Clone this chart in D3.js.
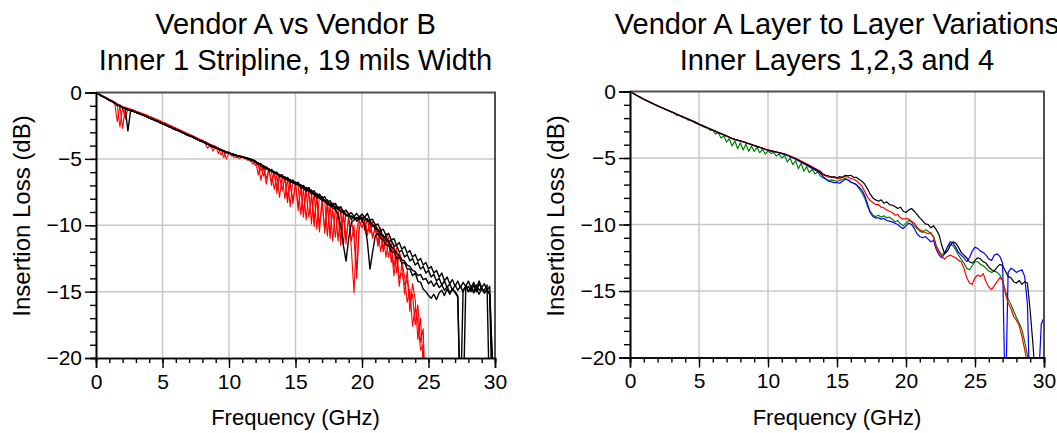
<!DOCTYPE html>
<html>
<head>
<meta charset="utf-8">
<script src="https://cdn.jsdelivr.net/npm/d3@7"></script>
<style>
  body { margin: 0; background: #fff; }
  svg { display: block; }
  text { font-family: "Liberation Sans", Arial, sans-serif; fill: #000; }
</style>
</head>
<body>
<svg id="chart" width="1057" height="433"></svg>
<script>
// Axis ticks shared by both panels
const freqTicks = [0, 5, 10, 15, 20, 25, 30];
const lossTicks = [0, -5, -10, -15, -20];
const freqStep = 0.2; // GHz between samples in every trace

// ---- Vendor A vs Vendor B, Inner 1 stripline (dB, every 0.2 GHz) ----
const vendorA_1 = [
  0, -0.12, -0.25, -0.33, -0.45, -0.58, -0.66, -0.78, -0.95, -1.0,
  -1.15, -1.2, -1.28, -1.35, -1.4, -1.5, -1.56, -1.66, -1.72, -1.82,
  -1.92, -1.98, -2.1, -2.14, -2.27, -2.35, -2.42, -2.55, -2.6, -2.73,
  -2.8, -2.86, -2.98, -3.05, -3.18, -3.25, -3.3, -3.45, -3.5, -3.64,
  -3.7, -3.78, -3.9, -3.96, -4.1, -4.15, -4.22, -4.35, -4.4, -4.52,
  -4.55, -4.62, -4.7, -4.75, -4.82, -4.85, -4.9, -4.95, -5.0, -5.1,
  -5.2, -5.4, -5.35, -5.65, -5.6, -5.85, -5.8, -6.05, -6.0, -6.3,
  -6.2, -6.5, -6.4, -6.7, -6.6, -6.85, -6.75, -7.1, -7.0, -7.3,
  -7.15, -7.5, -7.4, -7.8, -7.65, -7.95, -7.85, -8.25, -8.15, -8.5,
  -8.35, -8.75, -8.6, -9.0, -8.85, -9.2, -9.05, -9.35, -9.1, -9.4,
  -9.15, -9.4, -9.1, -9.6, -9.55, -10.0, -9.9, -10.4, -10.3, -10.75,
  -10.6, -11.1, -11.0, -11.5, -11.3, -11.8, -11.6, -12.1, -11.9, -12.4,
  -12.2, -12.7, -12.5, -13.0, -12.8, -13.3, -13.1, -13.6, -13.4, -13.9,
  -13.6, -14.2, -13.9, -14.4, -14.1, -14.6, -14.2, -14.7, -14.3, -14.6,
  -14.2, -14.7, -14.3, -14.8, -14.2, -14.7, -14.4, -14.9, -14.6, -20.5,
  -24
];
const vendorA_2 = [
  0, -0.13, -0.24, -0.35, -0.46, -0.6, -0.68, -0.8, -0.93, -1.02,
  -1.15, -1.22, -2.9, -1.35, -1.42, -1.5, -1.58, -1.65, -1.74, -1.8,
  -1.93, -2.0, -2.08, -2.16, -2.25, -2.36, -2.44, -2.52, -2.62, -2.7,
  -2.82, -2.88, -2.98, -3.07, -3.15, -3.27, -3.34, -3.42, -3.53, -3.6,
  -3.72, -3.8, -3.88, -3.98, -4.06, -4.17, -4.25, -4.32, -4.42, -4.5,
  -4.58, -4.65, -4.7, -4.78, -4.8, -4.88, -4.92, -4.98, -5.05, -5.15,
  -5.25, -5.4, -5.4, -5.7, -5.65, -5.9, -5.85, -6.1, -6.1, -6.35,
  -6.3, -6.55, -6.5, -6.8, -6.75, -6.95, -6.9, -7.2, -7.2, -7.45,
  -7.35, -7.65, -7.6, -7.95, -7.9, -8.15, -8.2, -8.45, -8.5, -8.7,
  -8.8, -9.2, -10.0, -11.5, -12.7, -11.0, -9.8, -9.6, -9.5, -9.4,
  -9.6, -10.0, -11.2, -13.3, -12.0, -10.8, -10.6, -11.0, -11.1, -11.5,
  -11.5, -12.0, -12.0, -12.5, -12.4, -12.9, -12.8, -13.3, -13.3, -13.8,
  -13.6, -14.2, -14.3, -14.8, -15.0, -15.3, -15.5, -15.2, -15.6, -15.1,
  -14.9, -15.3, -14.8, -15.2, -14.8, -15.1, -15.4, -24, -14.9, -14.6,
  -15.0, -14.6, -15.0, -14.5, -14.9, -14.7, -15.1, -14.8, -15.2, -24,
  -24
];
const vendorA_3 = [
  0, -0.12, -0.24, -0.34, -0.46, -0.57, -0.67, -0.79, -0.92, -1.01,
  -1.14, -1.21, -1.29, -1.36, -1.41, -1.49, -1.57, -1.65, -1.73, -1.81,
  -1.91, -1.99, -2.09, -2.15, -2.26, -2.34, -2.43, -2.54, -2.61, -2.72,
  -2.79, -2.87, -2.97, -3.06, -3.17, -3.24, -3.31, -3.44, -3.51, -3.63,
  -3.69, -3.79, -3.89, -3.97, -4.09, -4.14, -4.23, -4.34, -4.41, -4.51,
  -4.56, -4.63, -4.69, -4.76, -4.81, -4.86, -4.91, -4.96, -5.02, -5.12,
  -5.25, -5.3, -5.5, -5.5, -5.75, -5.75, -5.95, -5.95, -6.15, -6.2,
  -6.4, -6.35, -6.6, -6.55, -6.8, -6.75, -7.0, -6.95, -7.2, -7.15,
  -7.45, -7.35, -7.7, -7.6, -7.95, -7.85, -8.2, -8.1, -8.5, -8.4,
  -8.8, -8.6, -9.0, -8.9, -9.3, -9.2, -9.55, -9.3, -9.7, -9.4,
  -9.6, -9.35, -9.7, -9.6, -10.1, -10.0, -10.5, -10.4, -10.9, -10.8,
  -11.3, -11.1, -11.6, -11.5, -12.0, -11.9, -12.4, -12.2, -12.7, -12.5,
  -13.0, -12.8, -13.3, -13.1, -13.6, -13.4, -13.9, -13.7, -14.2, -14.0,
  -14.5, -14.2, -14.7, -14.4, -14.9, -14.5, -14.9, -14.6, -15.0, -14.6,
  -15.0, -14.7, -15.1, -14.8, -15.2, -14.8, -15.1, -14.9, -15.2, -20,
  -24
];
const vendorA_4 = [
  0, -0.11, -0.25, -0.35, -0.45, -0.58, -0.67, -0.79, -0.93, -1.02,
  -1.14, -1.2, -1.29, -1.35, -1.41, -1.5, -1.57, -1.65, -1.72, -1.81,
  -1.92, -1.99, -2.09, -2.15, -2.26, -2.35, -2.43, -2.54, -2.61, -2.72,
  -2.81, -2.87, -2.98, -3.06, -3.17, -3.25, -3.32, -3.44, -3.52, -3.63,
  -3.7, -3.79, -3.9, -3.97, -4.09, -4.15, -4.23, -4.34, -4.41, -4.51,
  -4.56, -4.63, -4.7, -4.76, -4.81, -4.86, -4.91, -4.97, -5.03, -5.12,
  -5.2, -5.35, -5.45, -5.6, -5.7, -5.8, -5.9, -6.05, -6.1, -6.25,
  -6.3, -6.5, -6.5, -6.7, -6.7, -6.9, -6.9, -7.1, -7.1, -7.3,
  -7.35, -7.55, -7.6, -7.8, -7.85, -8.1, -8.1, -8.4, -8.35, -8.6,
  -8.6, -8.8, -8.9, -9.1, -9.2, -9.35, -9.3, -9.5, -9.4, -9.55,
  -9.4, -9.6, -9.5, -9.9, -9.9, -10.3, -10.3, -10.7, -10.8, -11.1,
  -11.3, -11.6, -11.8, -12.1, -12.3, -12.6, -12.7, -13.0, -13.1, -13.4,
  -13.5, -13.8, -13.7, -14.1, -14.0, -14.4, -14.2, -14.6, -14.3, -14.7,
  -14.5, -14.9, -14.6, -15.1, -14.8, -15.0, -15.3, -24, -24, -14.8,
  -14.6, -15.0, -14.5, -15.0, -14.4, -14.8, -14.9, -14.5, -24, -24,
  -24
];
const vendorB_1 = [
  0, -0.1, -0.22, -0.32, -0.42, -0.53, -0.62, -0.74, -2.2, -1.0,
  -2.7, -1.15, -1.2, -1.28, -1.33, -1.42, -1.5, -1.56, -1.65, -1.7,
  -1.83, -1.88, -2.0, -2.05, -2.16, -2.25, -2.33, -2.45, -2.5, -2.63,
  -2.7, -2.8, -2.87, -3.0, -3.08, -3.15, -3.3, -3.33, -3.45, -3.55,
  -3.6, -3.85, -3.8, -4.1, -4.0, -4.05, -4.6, -4.25, -4.9, -4.45,
  -4.5, -4.8, -4.65, -4.9, -4.75, -4.8, -5.0, -4.9, -5.2, -5.05,
  -5.15, -6.2, -5.4, -6.3, -5.6, -5.75, -7.0, -5.95, -7.6, -6.15,
  -6.25, -8.0, -6.45, -8.6, -6.6, -6.75, -8.9, -6.95, -9.4, -7.15,
  -7.3, -9.9, -7.5, -10.3, -7.7, -7.9, -10.6, -8.1, -11.0, -8.3,
  -8.5, -11.2, -8.7, -11.6, -8.9, -9.1, -11.8, -15.1, -10.4, -9.3,
  -9.4, -10.4, -9.5, -10.6, -9.7, -9.9, -11.4, -10.2, -11.8, -10.6,
  -10.9, -12.8, -11.4, -13.6, -12.0, -12.6, -15.2, -13.4, -16.5, -14.4,
  -15.6, -18.6, -17.0, -20.5, -24
];
const vendorB_2 = [
  0, -0.11, -0.23, -0.34, -0.44, -0.55, -0.64, -0.76, -1.0, -2.6,
  -1.1, -2.0, -1.22, -1.3, -1.35, -1.44, -1.5, -1.58, -1.64, -1.73,
  -1.8, -1.9, -1.97, -2.08, -2.13, -2.27, -2.32, -2.47, -2.52, -2.65,
  -2.72, -2.82, -2.9, -2.98, -3.1, -3.2, -3.3, -3.4, -3.45, -3.6,
  -3.65, -3.8, -4.2, -3.95, -4.4, -4.1, -4.25, -4.7, -4.4, -5.0,
  -4.55, -4.65, -4.9, -4.8, -5.0, -4.85, -4.95, -5.1, -5.1, -5.4,
  -5.2, -5.4, -6.6, -5.6, -6.9, -5.8, -6.0, -7.3, -6.2, -7.9,
  -6.3, -6.5, -8.3, -6.7, -8.4, -6.85, -7.0, -9.2, -7.2, -9.6,
  -7.35, -7.55, -10.1, -7.8, -10.5, -7.95, -8.2, -10.8, -8.4, -11.2,
  -8.6, -8.8, -11.5, -9.0, -11.4, -9.2, -9.5, -11.0, -14.0, -10.2,
  -9.6, -9.8, -10.8, -9.7, -11.0, -10.0, -10.3, -12.0, -10.7, -12.4,
  -11.1, -11.6, -13.8, -12.3, -14.6, -12.9, -13.8, -15.8, -14.8, -17.6,
  -16.2, -17.2, -19.4, -19.0, -24
];
const vendorB_3 = [
  0, -0.1, -0.21, -0.31, -0.41, -0.52, -0.61, -0.72, -0.84, -0.95,
  -1.05, -1.12, -1.18, -1.25, -1.32, -1.4, -1.47, -1.55, -1.62, -1.7,
  -1.8, -1.87, -1.96, -2.04, -2.12, -2.22, -2.3, -2.4, -2.48, -2.58,
  -2.68, -2.76, -2.86, -2.95, -3.05, -3.14, -3.22, -3.32, -3.42, -3.52,
  -3.6, -3.7, -3.8, -3.9, -4.0, -4.08, -4.18, -4.3, -4.36, -4.44,
  -4.5, -4.6, -4.66, -4.72, -4.8, -4.85, -4.9, -5.0, -5.05, -5.15,
  -5.5, -5.3, -5.9, -5.55, -6.5, -5.8, -6.7, -6.0, -7.2, -6.3,
  -7.4, -6.4, -7.9, -6.8, -8.2, -6.9, -8.6, -7.3, -9.0, -7.4,
  -9.4, -7.7, -9.6, -7.9, -10.0, -8.3, -10.3, -8.5, -10.7, -8.8,
  -10.9, -9.0, -11.0, -9.3, -10.9, -9.5, -11.2, -10.0, -13.5, -9.6,
  -10.2, -9.6, -10.5, -9.9, -10.8, -10.3, -11.6, -10.6, -12.0, -11.0,
  -12.4, -11.3, -13.2, -11.7, -14.0, -13.6, -14.5, -14.1, -15.7, -15.2,
  -17.5, -16.0, -18.8, -17.8, -24
];

// ---- Vendor A layer to layer, inner layers 1-4 (dB, every 0.2 GHz) ----
const innerLayer1 = [
  0, -0.12, -0.24, -0.36, -0.47, -0.58, -0.68, -0.78, -0.88, -0.98,
  -1.08, -1.17, -1.26, -1.35, -1.44, -1.53, -1.62, -1.71, -1.8, -1.89,
  -1.98, -2.07, -2.16, -2.25, -2.34, -2.45, -2.54, -2.63, -2.72, -2.81,
  -2.9, -2.99, -3.08, -3.17, -3.26, -3.35, -3.44, -3.53, -3.6, -3.66,
  -3.72, -3.78, -3.85, -3.92, -3.99, -4.06, -4.13, -4.2, -4.27, -4.34,
  -4.4, -4.46, -4.5, -4.55, -4.6, -4.65, -4.7, -4.78, -4.87, -4.96,
  -5.06, -5.17, -5.28, -5.39, -5.5, -5.61, -5.72, -5.83, -5.94, -6.05,
  -6.2, -6.3, -6.35, -6.45, -6.4, -6.5, -6.4, -6.45, -6.3, -6.35,
  -6.3, -6.45, -6.45, -6.6, -6.75, -6.95, -7.3, -7.7, -8.0, -8.15,
  -8.25, -8.15, -8.4, -8.3, -8.5, -8.55, -8.65, -8.8, -8.7, -9.0,
  -9.1, -8.9, -8.8, -9.0, -9.25, -9.5, -9.7, -9.95, -10.0, -10.25,
  -10.1, -10.4, -10.8, -11.6, -12.2, -12.0, -11.6, -11.3, -11.4, -11.7,
  -12.1, -12.3, -12.5, -12.8, -12.9, -12.7, -12.5, -12.6, -12.8, -12.9,
  -13.2, -13.4, -13.5, -13.2, -13.0, -13.1, -13.5, -13.9, -14.0, -14.3,
  -14.4, -14.2, -14.5, -14.3, -14.4, -16.5, -19, -22, -24
];
const innerLayer2 = [
  0, -0.11, -0.23, -0.35, -0.46, -0.57, -0.67, -0.77, -0.87, -0.97,
  -1.07, -1.16, -1.25, -1.34, -1.43, -1.52, -1.61, -1.7, -1.79, -1.88,
  -1.97, -2.06, -2.15, -2.24, -2.33, -2.44, -2.53, -2.62, -2.71, -2.8,
  -2.89, -2.98, -3.07, -3.16, -3.25, -3.34, -3.43, -3.52, -3.59, -3.65,
  -3.71, -3.77, -3.84, -3.91, -3.98, -4.05, -4.12, -4.19, -4.26, -4.33,
  -4.39, -4.45, -4.49, -4.54, -4.59, -4.64, -4.69, -4.77, -4.85, -4.93,
  -5.02, -5.12, -5.22, -5.33, -5.44, -5.55, -5.66, -5.77, -5.88, -6.0,
  -6.3, -6.35, -6.45, -6.4, -6.5, -6.5, -6.55, -6.45, -6.4, -6.45,
  -6.55, -6.6, -6.7, -6.9, -7.1, -7.5, -7.9, -8.2, -8.35, -8.5,
  -8.5, -8.7, -8.75, -8.9, -9.0, -9.1, -9.3, -9.25, -9.5, -9.6,
  -9.55, -9.6, -9.75, -9.9, -10.2, -10.4, -10.5, -10.6, -10.7, -10.6,
  -11.0, -11.7, -12.1, -12.4, -12.6, -12.4, -12.3, -12.4, -12.5, -12.7,
  -12.8, -13.3, -14.0, -14.4, -14.5, -14.0, -13.8, -13.9, -13.7, -14.3,
  -14.7, -14.9, -14.6, -14.3, -14.0, -14.2, -15.2, -15.9, -16.3, -16.9,
  -17.2, -17.6, -18.4, -19.4, -20.5, -22, -24
];
const innerLayer3 = [
  0, -0.12, -0.25, -0.36, -0.48, -0.59, -0.69, -0.79, -0.89, -0.99,
  -1.09, -1.18, -1.27, -1.36, -1.45, -1.54, -1.63, -1.72, -1.81, -1.9,
  -1.99, -2.08, -2.17, -2.26, -2.35, -2.46, -2.55, -2.64, -2.73, -2.82,
  -2.91, -3.0, -3.09, -3.18, -3.27, -3.36, -3.45, -3.54, -3.61, -3.67,
  -3.73, -3.79, -3.86, -3.93, -4.0, -4.07, -4.14, -4.21, -4.28, -4.35,
  -4.41, -4.47, -4.52, -4.57, -4.62, -4.67, -4.73, -4.81, -4.9, -5.0,
  -5.1, -5.21, -5.32, -5.44, -5.55, -5.67, -5.78, -5.9, -6.02, -6.15,
  -6.4, -6.6, -6.75, -6.8, -6.85, -6.85, -6.9, -6.75, -6.6, -6.65,
  -6.8, -6.9, -7.0, -7.2, -7.4, -7.8, -8.4, -9.1, -9.4, -9.5,
  -9.5, -9.6, -9.55, -9.7, -9.75, -9.8, -9.9, -10.0, -10.2, -10.3,
  -10.1, -9.9, -10.0, -10.3, -10.7, -10.9, -11.0, -10.9, -11.1, -11.3,
  -11.2, -11.9, -12.3, -12.5, -12.2, -11.7, -11.3, -11.4, -11.7, -12.1,
  -12.3, -12.5, -12.8, -12.5, -12.0, -11.7, -11.8, -12.0, -12.1, -12.3,
  -12.6, -12.7, -12.3, -12.2, -12.4, -12.9, -24, -13.6, -13.3, -13.4,
  -13.6, -13.5, -13.4, -13.9, -16.0, -24, -24, -24, -22, -17.5,
  -17.0
];
const innerLayer4 = [
  0, -0.12, -0.24, -0.36, -0.47, -0.58, -0.68, -0.78, -0.88, -0.98,
  -1.08, -1.17, -1.26, -1.35, -1.44, -1.53, -1.62, -1.8, -1.82, -1.95,
  -1.98, -2.15, -2.16, -2.3, -2.4, -2.5, -2.6, -2.7, -2.75, -2.9,
  -2.92, -3.2, -3.1, -3.5, -3.35, -3.8, -3.55, -4.1, -3.7, -4.3,
  -3.85, -4.4, -3.95, -4.5, -4.1, -4.5, -4.2, -4.6, -4.35, -4.7,
  -4.45, -4.65, -4.6, -4.85, -4.7, -5.0, -4.8, -5.3, -5.0, -5.5,
  -5.2, -5.8, -5.4, -6.0, -5.65, -6.1, -5.85, -6.2, -6.05, -6.35,
  -6.5, -6.6, -6.7, -6.65, -6.7, -6.75, -6.7, -6.6, -6.55, -6.65,
  -6.8, -6.9, -7.0, -7.3, -7.6, -8.0, -8.6, -9.0, -9.3, -9.4,
  -9.3, -9.45, -9.35, -9.5, -9.45, -9.6, -9.8, -9.7, -9.95, -10.1,
  -9.9, -9.7, -9.8, -10.1, -10.3, -10.5, -10.6, -10.4, -10.5, -10.7,
  -10.9, -11.6, -12.0, -12.3, -12.1, -11.7, -11.5, -11.6, -11.9, -12.3,
  -12.6, -12.9, -13.3, -13.4, -13.1, -12.8, -12.8, -13.0, -13.1, -13.3,
  -13.5, -13.6, -13.5, -13.6, -13.8, -14.2, -15.0, -15.6, -16.0, -16.5,
  -17.0, -17.4, -17.9, -18.8, -19.8, -22, -24
];

const panels = [
  {
    title: ["Vendor A vs Vendor B", "Inner 1 Stripline, 19 mils Width"],
    x: [96, 495], y: [92.5, 358], yTitleX: 22,
    series: [
      { values: vendorB_3, color: "#ff0000", width: 1.1 },
      { values: vendorB_2, color: "#ff0000", width: 1.1 },
      { values: vendorB_1, color: "#ff0000", width: 1.1 },
      { values: vendorA_4, color: "#000000", width: 1.4 },
      { values: vendorA_3, color: "#000000", width: 1.4 },
      { values: vendorA_2, color: "#000000", width: 1.4 },
      { values: vendorA_1, color: "#000000", width: 1.4 }
    ]
  },
  {
    title: ["Vendor A Layer to Layer Variations", "Inner Layers 1,2,3 and 4"],
    x: [630, 1044], y: [91.5, 357.5], yTitleX: 556,
    series: [
      { values: innerLayer4, color: "#008000", width: 1.2 },
      { values: innerLayer3, color: "#0000ff", width: 1.2 },
      { values: innerLayer2, color: "#ff0000", width: 1.2 },
      { values: innerLayer1, color: "#000000", width: 1.2 }
    ]
  }
];

const svg = d3.select("#chart");

panels.forEach((p, k) => {
  const x = d3.scaleLinear().domain([0, 30]).range(p.x);
  const y = d3.scaleLinear().domain([0, -20]).range(p.y);
  const g = svg.append("g");
  const cx = (p.x[0] + p.x[1]) / 2;

  // titles
  g.append("text").attr("x", cx).attr("y", 34).attr("text-anchor", "middle")
    .attr("font-size", 29).text(p.title[0]);
  g.append("text").attr("x", cx).attr("y", 70).attr("text-anchor", "middle")
    .attr("font-size", 29).text(p.title[1]);

  // grid
  const grid = g.append("g").attr("stroke", "#c8c8c8").attr("stroke-width", 1.5);
  freqTicks.slice(1, -1).forEach(t => grid.append("line")
    .attr("x1", x(t)).attr("x2", x(t)).attr("y1", p.y[0]).attr("y2", p.y[1]));
  lossTicks.slice(1, -1).forEach(t => grid.append("line")
    .attr("x1", p.x[0]).attr("x2", p.x[1]).attr("y1", y(t)).attr("y2", y(t)));

  // traces
  const clipId = "clip" + k;
  svg.append("clipPath").attr("id", clipId).append("rect")
    .attr("x", p.x[0]).attr("y", p.y[0])
    .attr("width", p.x[1] - p.x[0]).attr("height", p.y[1] - p.y[0]);
  const line = d3.line().x((d, i) => x(i * freqStep)).y(d => y(d));
  const traces = g.append("g").attr("clip-path", `url(#${clipId})`);
  p.series.forEach(s => traces.append("path").datum(s.values)
    .attr("d", line).attr("fill", "none")
    .attr("stroke", s.color).attr("stroke-width", s.width)
    .attr("stroke-linejoin", "round"));

  // top / right frame
  g.append("path")
    .attr("d", `M${p.x[0]},${p.y[0]}H${p.x[1]}V${p.y[1]}`)
    .attr("fill", "none").attr("stroke", "#505050").attr("stroke-width", 2);

  // axes with major and minor ticks
  const xAxis = g.append("g").attr("transform", `translate(0,${p.y[1]})`);
  xAxis.call(d3.axisBottom(x).tickValues(d3.range(0, 31, 1)).tickSize(5).tickFormat(""));
  const xMajor = g.append("g").attr("transform", `translate(0,${p.y[1]})`);
  xMajor.call(d3.axisBottom(x).tickValues(freqTicks).tickSize(10).tickPadding(6));
  const yAxis = g.append("g").attr("transform", `translate(${p.x[0]},0)`);
  yAxis.call(d3.axisLeft(y).tickValues(d3.range(0, -21, -1)).tickSize(6).tickFormat(""));
  const yMajor = g.append("g").attr("transform", `translate(${p.x[0]},0)`);
  yMajor.call(d3.axisLeft(y).tickValues(lossTicks).tickSize(11).tickPadding(3));

  [xAxis, xMajor, yAxis, yMajor].forEach(a => {
    a.selectAll("path.domain").attr("stroke", "#000").attr("stroke-width", 1.6);
    a.selectAll(".tick line").attr("stroke", "#000").attr("stroke-width", 1.4);
    a.selectAll(".tick text").attr("font-size", 21)
      .attr("font-family", '"Liberation Sans", Arial, sans-serif').attr("fill", "#000");
  });

  // axis titles
  g.append("text").attr("x", cx).attr("y", 425).attr("text-anchor", "middle")
    .attr("font-size", 22).text("Frequency (GHz)");
  g.append("text")
    .attr("transform", `translate(${p.yTitleX},216) rotate(-90)`)
    .attr("text-anchor", "middle").attr("dy", "0.35em")
    .attr("font-size", 24).text("Insertion Loss (dB)");
});
</script>
</body>
</html>
